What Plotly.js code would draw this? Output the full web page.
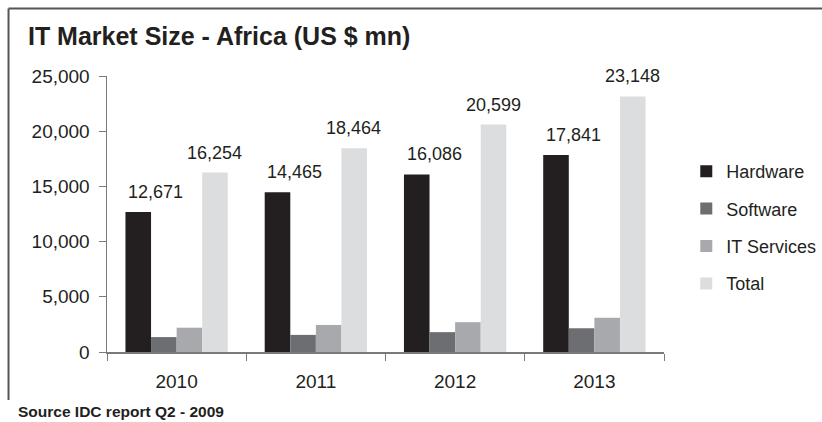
<!DOCTYPE html>
<html>
<head>
<meta charset="utf-8">
<script src="https://cdn.plot.ly/plotly-3.0.1.min.js"></script>
<style>html,body{margin:0;padding:0;background:#fff;}#chart{width:822px;height:422px;}</style>
</head>
<body>
<div id="chart"></div>
<script>
const years = ['2010', '2011', '2012', '2013'];
const hardware = [12671, 14465, 16086, 17841];
const software = [1350, 1550, 1800, 2150];
const itServices = [2200, 2450, 2700, 3100];
const total = [16254, 18464, 20599, 23148];
const seriesNames = ['Hardware', 'Software', 'IT Services', 'Total'];
const seriesColors = ['#231f20', '#6d6e71', '#a7a9ac', '#dcdddf'];
const yTicks = [0, 5000, 10000, 15000, 20000, 25000];

const FONT = 'Liberation Sans, Arial, Helvetica, sans-serif';
const TXT = '#231f20';
const allSeries = [hardware, software, itServices, total];

const traces = allSeries.map((vals, i) => ({
  type: 'bar',
  name: seriesNames[i],
  x: years,
  y: vals,
  marker: {color: seriesColors[i], line: {width: 0}},
  legendgroup: 'g' + i,
  hoverinfo: 'skip'
}));

const annotations = [];
years.forEach((yr, j) => {
  annotations.push({x: j, y: hardware[j], xref: 'x', yref: 'y', text: hardware[j].toLocaleString('en-US'),
    showarrow: false, yanchor: 'bottom', xshift: -21, yshift: 8, font: {size: 18, color: TXT, family: FONT}});
  annotations.push({x: j, y: total[j], xref: 'x', yref: 'y', text: total[j].toLocaleString('en-US'),
    showarrow: false, yanchor: 'bottom', xshift: 38, yshift: 8, font: {size: 18, color: TXT, family: FONT}});
});
annotations.push({x: -0.164, y: -0.217, xref: 'paper', yref: 'paper', xanchor: 'left', yanchor: 'middle',
  text: '<b>Source IDC report Q2 - 2009</b>', showarrow: false, font: {size: 15.5, color: TXT, family: FONT}});

const layout = {
  width: 822, height: 422,
  margin: {l: 107, r: 158, t: 76, b: 70, autoexpand: false},
  paper_bgcolor: '#fff', plot_bgcolor: '#fff',
  font: {family: FONT, color: TXT, size: 18},
  title: {text: '<b>IT Market Size - Africa (US $ mn)</b>', x: 0.034, xanchor: 'left', xref: 'container',
    y: 0.913, yanchor: 'middle', yref: 'container', font: {size: 25, color: TXT, family: FONT}},
  barmode: 'group', bargap: 0.265, bargroupgap: 0,
  showlegend: true,
  legend: {x: 1.04, xanchor: 'left', y: 0.451, yanchor: 'middle', traceorder: 'grouped', tracegroupgap: 11,
    font: {size: 18, color: TXT, family: FONT}, bgcolor: 'rgba(0,0,0,0)'},
  xaxis: {type: 'category', range: [-0.5, 3.5], showline: true, linecolor: '#7a7a7a', linewidth: 1.5, ticks: 'outside', ticklen: 7,
    tickcolor: '#7a7a7a', tickson: 'boundaries', showgrid: false, zeroline: false, ticklabelstandoff: 12,
    tickfont: {size: 19, color: TXT}, fixedrange: true, automargin: false},
  yaxis: {range: [0, 25000], tickvals: yTicks, tickformat: ',', showline: true, linecolor: '#7a7a7a', linewidth: 1.5,
    ticks: 'outside', ticklen: 7, tickcolor: '#7a7a7a', showgrid: false, zeroline: false, ticklabelstandoff: 5,
    tickfont: {size: 19, color: TXT}, fixedrange: true, automargin: false},
  shapes: [
    {type: 'line', xref: 'paper', yref: 'paper', x0: -0.1768, x1: -0.1768, y0: -0.174, y1: 1.2446, line: {color: '#555', width: 2}},
    {type: 'line', xref: 'paper', yref: 'paper', x0: -0.1768, x1: 1.29, y0: 1.2446, y1: 1.2446, line: {color: '#555', width: 2}}
  ],
  annotations: annotations
};

Plotly.newPlot('chart', traces, layout, {displayModeBar: false, staticPlot: true});
</script>
</body>
</html>
